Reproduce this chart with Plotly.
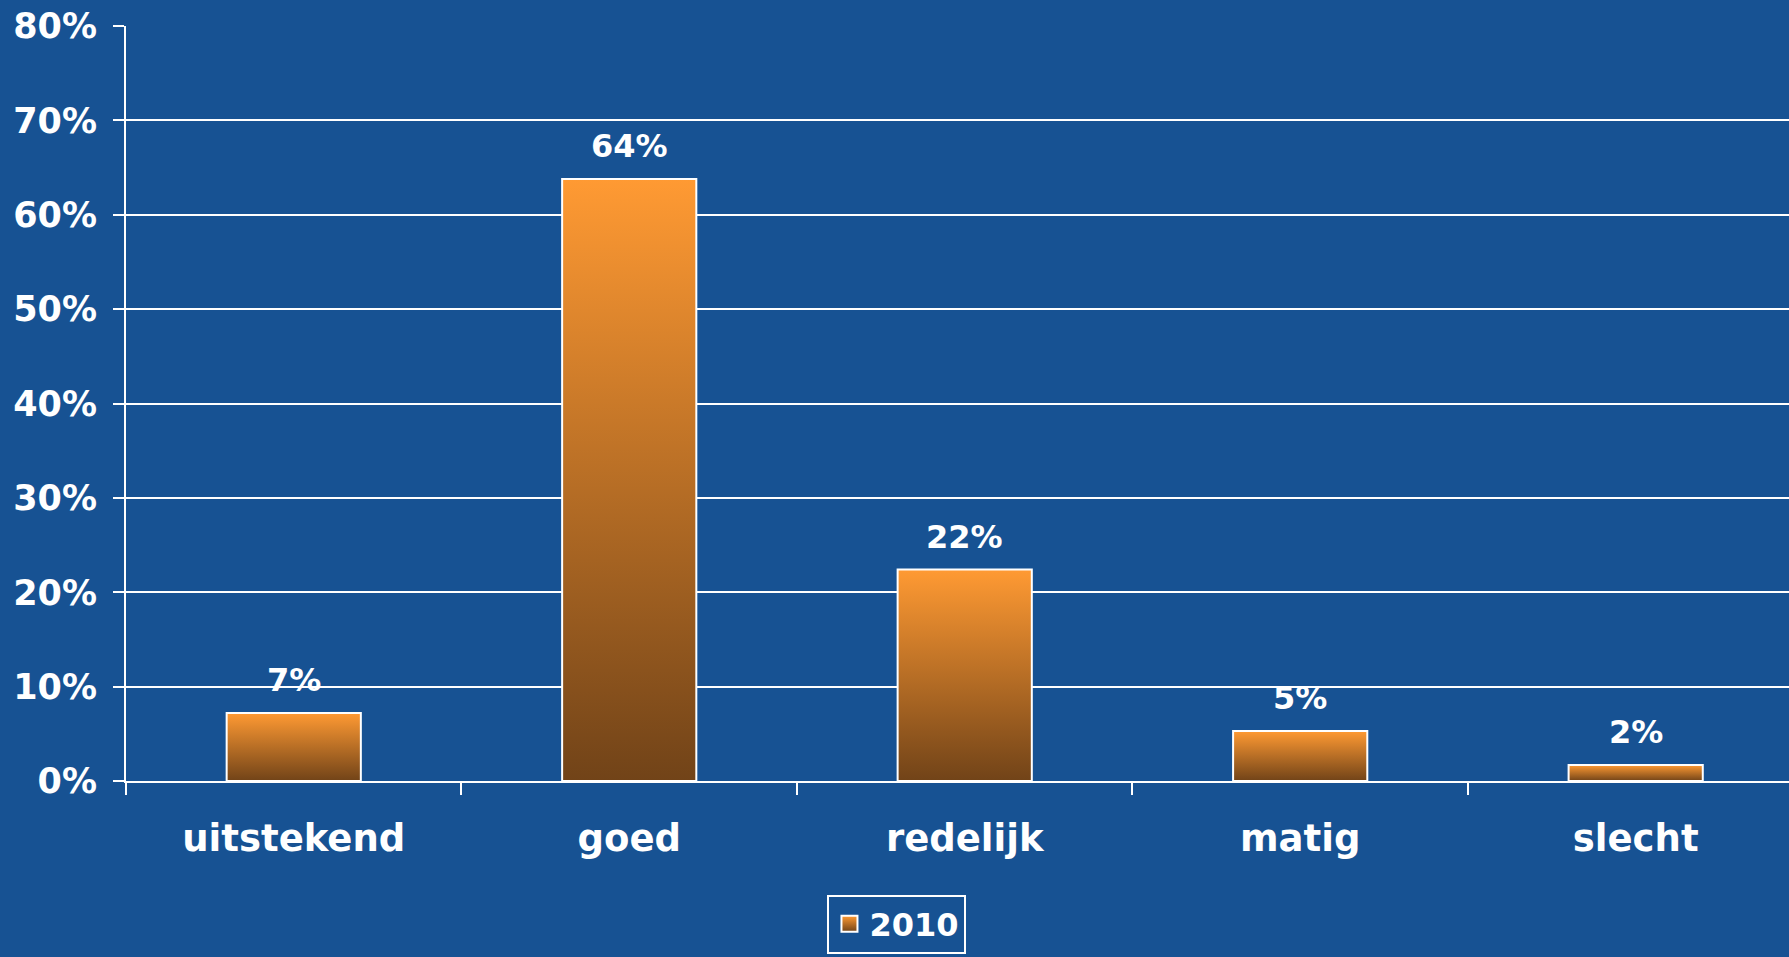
import plotly.graph_objects as go

categories = ["uitstekend", "goed", "redelijk", "matig", "slecht"]
values = [7.2, 63.8, 22.4, 5.3, 1.7]
labels = ["7%", "64%", "22%", "5%", "2%"]
series_name = "2010"

BG = "#175293"
TOP = "#ff9a33"
BOTTOM = "#714318"
FONT = "DejaVu Sans"
half = 0.2  # half bar width, in category units

fig = go.Figure()
for i, (cat, v) in enumerate(zip(categories, values)):
    fig.add_trace(go.Scatter(
        x=[i - half, i - half, i + half, i + half, i - half],
        y=[0, v, v, 0, 0],
        mode="lines", fill="toself",
        fillgradient=dict(type="vertical", colorscale=[[0, BOTTOM], [1, TOP]]),
        line=dict(color="white", width=2),
        showlegend=False, hoverinfo="skip",
    ))
    fig.add_annotation(
        x=i, y=v, text=labels[i], showarrow=False,
        yanchor="bottom", yshift=12,
        font=dict(family=FONT, size=32, color="white", weight="bold"),
    )

# legend entry only
fig.add_trace(go.Scatter(
    x=[None], y=[None], mode="markers", name=series_name,
    marker=dict(symbol="square", size=22, color=TOP,
                gradient=dict(type="vertical", color=BOTTOM),
                line=dict(color="white", width=2)),
))

fig.update_layout(
    width=1789, height=957,
    paper_bgcolor=BG, plot_bgcolor=BG,
    margin=dict(l=126, r=0, t=26, b=176),
    showlegend=True,
    legend=dict(
        x=0.4636, xanchor="center", y=-0.2285, yanchor="bottom",
        bgcolor=BG, bordercolor="white", borderwidth=2,
        itemsizing="trace",
        font=dict(family=FONT, size=32, color="white", weight="bold"),
    ),
    xaxis=dict(
        range=[-0.5, 4.457],
        tickvals=list(range(len(categories))), ticktext=categories,
        ticks="", showgrid=False, zeroline=False,
        showline=False, tickangle=0,
        tickfont=dict(family=FONT, size=37, color="white", weight="bold"),
        ticklabelstandoff=32,
    ),
    xaxis2=dict(
        overlaying="x", anchor="y", side="bottom",
        range=[-0.5, 4.457],
        tickvals=[k - 0.5 for k in range(len(categories))],
        ticktext=[""] * len(categories),
        ticks="outside", ticklen=12, tickwidth=2, tickcolor="white",
        showline=True, linecolor="white", linewidth=2,
        showgrid=False, zeroline=False,
    ),
    yaxis=dict(
        range=[0, 80], dtick=10, ticksuffix="%",
        showgrid=True, gridcolor="white", gridwidth=2,
        ticks="outside", ticklen=11, tickwidth=2, tickcolor="white",
        showline=True, linecolor="white", linewidth=2,
        zeroline=False,
        tickfont=dict(family=FONT, size=35, color="white", weight="bold"),
        ticklabelstandoff=9,
    ),
)
# invisible trace so that xaxis2 is used
fig.add_trace(go.Scatter(x=[0], y=[0], xaxis="x2", mode="markers",
                         marker=dict(opacity=0), showlegend=False, hoverinfo="skip"))

fig.write_html(
    "out.html",
    config={"displayModeBar": False},
    post_script="document.body.style.margin='0';document.body.style.overflow='hidden';",
)
